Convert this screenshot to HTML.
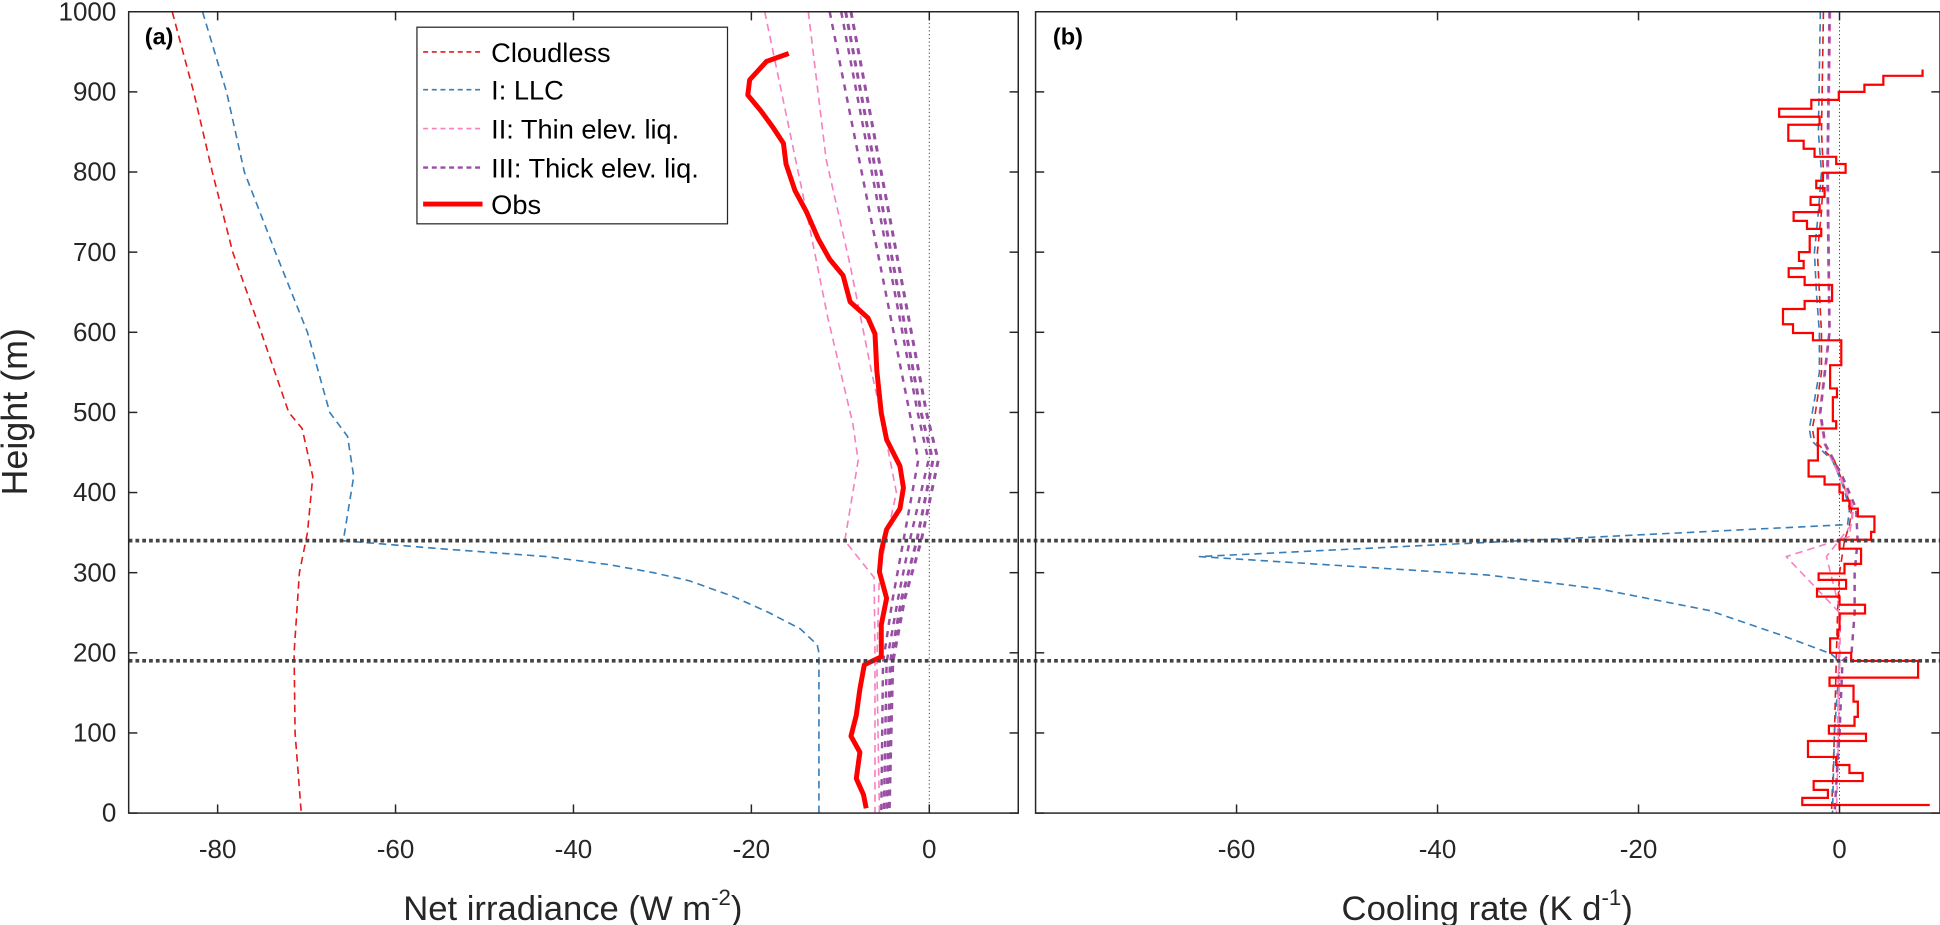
<!DOCTYPE html>
<html><head><meta charset="utf-8"><style>
html,body{margin:0;padding:0;background:#fff;}
svg{display:block;font-family:"Liberation Sans",Arial,sans-serif;}
</style></head><body>
<svg id="chart" width="1940" height="925" viewBox="0 0 1568 748" preserveAspectRatio="none" xmlns="http://www.w3.org/2000/svg"></svg>
<script>
// ---------- data ----------
const xTicksL = [-80,-60,-40,-20,0];
const xTicksR = [-60,-40,-20,0];
const yTicks = [0,100,200,300,400,500,600,700,800,900,1000];
const cloudBaseLines = [340,190];

// Panel (a): net irradiance
const cloudlessH = [1000,900,800,700,600,500,480,420,350,300,200,100,0];
const cloudlessV = [-85.1,-82.7,-80.6,-78.3,-75.1,-72,-70.5,-69.3,-69.9,-70.8,-71.4,-71.3,-70.6];
const llcH = [1000,900,800,700,600,500,470,420,345,340,330,320,310,300,290,270,250,230,210,200,0];
const llcV = [-81.7,-79,-77,-73.5,-69.9,-67.4,-65.4,-64.7,-65.8,-66,-55,-43,-36,-31,-27,-22,-18,-14.5,-12.6,-12.4,-12.4];
const thin1H = [1000,750,618,486,440,340,294,200,0];
const thin1V = [-18.5,-13.8,-11.4,-8.6,-8,-9.5,-6.2,-6.1,-6.1];
const thin2H = [1000,816,684,551,486,400,354,301,188,0];
const thin2V = [-13.6,-11.6,-8.9,-6.5,-5.2,-3.7,-4.6,-5.6,-5.9,-5.6];
const thickH = [1000,499,440,340,268,188,0];
const thick1V = [-11.2,-2.2,-1.25,-2.9,-4.1,-5.2,-5.4];
const thick2V = [-9.9,-1.3,-0.1,-2.2,-3.5,-4.8,-5.1];
const thick3V = [-9.4,-0.9,0.4,-1.4,-3.1,-4.4,-4.8];
const thick4V = [-8.8,-0.3,1.0,-0.9,-2.75,-4.1,-4.5];
const obsH = [948,938,915,896,876,856,836,810,777,750,717,691,671,638,618,598,552,499,466,433,406,380,354,327,301,268,235,195,185,155,122,96,76,43,23,6];
const obsV = [-15.8,-18.3,-20.2,-20.4,-18.9,-17.6,-16.4,-16.1,-15.1,-13.8,-12.5,-11.2,-9.7,-8.9,-6.9,-6.1,-5.9,-5.4,-4.8,-3.3,-2.9,-3.3,-4.8,-5.4,-5.6,-4.8,-5.4,-5.4,-7.3,-7.8,-8.2,-8.8,-7.8,-8.2,-7.4,-7.1];

// Panel (b): cooling rate
const crCloudH = [1000,850,800,750,700,650,600,550,500,480,465,440,410,380,360,340,300,250,200,100,0];
const crCloudV = [-1.6,-1.8,-1.6,-1.8,-2.2,-2.0,-1.8,-1.8,-2.4,-2.7,-2.5,-0.5,0.4,1.2,1.0,0.5,0,-0.2,-0.3,-0.5,-0.8];
const crLlcH = [1000,850,800,750,700,650,600,550,500,480,465,440,410,380,360,320,297,280,253,223,199,190,100,0];
const crLlcV = [-1.9,-2.1,-1.8,-2.1,-2.5,-2.3,-2.0,-2.0,-2.7,-3.0,-2.8,-0.7,0.3,1.0,0.8,-63.7,-35,-24,-13,-6,-0.9,0,-0.5,-0.7];
const crThin1H = [1000,800,600,500,460,420,380,345,320,250,100,0];
const crThin1V = [-1.0,-1.25,-1.05,-2.0,-1.5,0,1.3,1.0,-5.3,0,-0.2,-0.4];
const crThin2H = [1000,800,600,500,460,420,380,360,320,250,100,0];
const crThin2V = [-0.9,-1.1,-0.95,-1.9,-1.4,0.1,1.4,1.2,-1.3,0.1,-0.1,-0.3];
const crThickH = [1000,800,600,500,460,420,380,340,300,250,200,190,100,0];
const crThickV = [-1.0,-1.2,-1.0,-1.9,-1.4,0.3,1.65,1.8,1.5,1.5,1.2,0.3,0,-0.5];
const crObsEdges = [928,920,909,900,890,879,869,859,839,829,819,810,799,789,780,769,759,750,739,729,720,700,689,680,669,659,639,629,610,599,590,559,530,519,489,480,465,440,420,410,400,390,380,370,351,341,330,311,299,291,280,270,260,249,229,218,200,190,169,159,139,120,109,99,90,70,60,50,40,29,19,10];
const crObsV = [8.26,4.36,2.48,-0.07,-2.81,-6.0,-1.98,-5.1,-3.57,-2.48,-0.33,0.6,-1.65,-2.31,-1.49,-2.88,-1.98,-4.56,-3.24,-1.82,-2.97,-4.03,-3.57,-5.06,-3.47,-0.73,-3.47,-5.62,-4.63,-2.64,0.17,-0.93,-0.26,-0.66,-0.33,-2.15,-2.15,-3.07,-1.49,0,0.33,0.99,1.82,3.47,3.14,0,2.15,0.5,-2.08,0.66,-2.24,0,2.54,0,-0.17,-0.93,1.16,7.82,-0.99,1.39,1.82,1.49,-1.06,2.64,-3.14,-0.33,0.99,2.31,-2.57,-1.16,-3.7];
const crObsLast = 8.98;

// ---------- axes ----------
const L = {x0:104, x1:823, vmin:-90, vmax:10};
const R = {x0:837, x1:1568, vmin:-80, vmax:10};
const Y0 = 657.5, Y1 = 9.5;
function xL(v){return L.x0 + (v-L.vmin)/(L.vmax-L.vmin)*(L.x1-L.x0);}
function xR(v){return R.x0 + (v-R.vmin)/(R.vmax-R.vmin)*(R.x1-R.x0);}
function y(h){return Y0 - h/1000*(Y0-Y1);}

const svg = document.getElementById('chart');
const NS = 'http://www.w3.org/2000/svg';
function el(tag, attrs, parent){
  const e = document.createElementNS(NS, tag);
  for (const k in attrs) e.setAttribute(k, attrs[k]);
  (parent||svg).appendChild(e);
  return e;
}
function line(xs, hs, fx, color, w, dash, name){
  let d = '';
  for (let i=0;i<xs.length;i++) d += (i?'L':'M') + fx(xs[i]).toFixed(1) + ',' + y(hs[i]).toFixed(1);
  const p = el('path', {d:d, fill:'none', stroke:color, 'stroke-width':w, 'stroke-dasharray':dash||'none', 'stroke-linejoin':'round'});
  
  
  return p;
}
function txt(x, yy, s, size, anchor, name, extra){
  const t = el('text', Object.assign({x:x, y:yy, 'font-size':size, 'text-anchor':anchor||'middle', fill:'#262626'}, extra||{}));
  t.textContent = s;
  
  
  return t;
}

const RED='#e41a1c', BLUE='#377eb8', PINK='#f781bf', PURP='#984ea3', OBS='#ff0000';
const DASH='6,4';

// zero lines
for (const [fx,nm] of [[xL,'zero-line-a'],[xR,'zero-line-b']]){
  const z = el('line',{x1:fx(0),x2:fx(0),y1:Y1,y2:Y0,stroke:'#444','stroke-width':0.8,'stroke-dasharray':'1,2'});
  
  
}

// panel a series
line(cloudlessV, cloudlessH, xL, RED, 1.3, DASH, 'cloudless-line-a');
line(llcV, llcH, xL, BLUE, 1.3, DASH, 'llc-line-a');
line(thin1V, thin1H, xL, PINK, 1.3, DASH, 'thin-elev-liq-line-a-1');
line(thin2V, thin2H, xL, PINK, 1.3, DASH, 'thin-elev-liq-line-a-2');
line(thick1V, thickH, xL, PURP, 2, '5,5', 'thick-elev-liq-line-a-1');
line(thick2V, thickH, xL, PURP, 2, '5,5', 'thick-elev-liq-line-a-2');
line(thick3V, thickH, xL, PURP, 2.4, '5,5', 'thick-elev-liq-line-a-3');
line(thick4V, thickH, xL, PURP, 2.4, '5,5', 'thick-elev-liq-line-a-4');
line(obsV, obsH, xL, OBS, 4, null, 'obs-line-a');

// panel b series
line(crCloudV, crCloudH, xR, RED, 1.3, DASH, 'cloudless-line-b');
line(crLlcV, crLlcH, xR, BLUE, 1.3, DASH, 'llc-line-b');
line(crThin1V, crThin1H, xR, PINK, 1.3, DASH, 'thin-elev-liq-line-b-1');
line(crThin2V, crThin2H, xR, PINK, 1.3, DASH, 'thin-elev-liq-line-b-2');
line(crThickV, crThickH, xR, PURP, 2, '5,5', 'thick-elev-liq-line-b');
{
  let d = '';
  for (let i=0;i<crObsV.length;i++){
    const xv = xR(crObsV[i]).toFixed(1);
    d += (i?'L':'M') + xv + ',' + y(crObsEdges[i]).toFixed(1) + 'L' + xv + ',' + y(crObsEdges[i+1]).toFixed(1);
  }
  d += 'L' + xR(crObsLast).toFixed(1) + ',' + y(crObsEdges[crObsEdges.length-1]).toFixed(1);
  const p = el('path',{d:d,fill:'none',stroke:OBS,'stroke-width':1.8});
  
  
}

// cloud boundary dotted lines
for (const h of cloudBaseLines){
  const c = el('line',{x1:L.x0,x2:R.x1,y1:y(h),y2:y(h),stroke:'#444','stroke-width':3,'stroke-dasharray':'3,2.5'});
  
  
}

// axes boxes & ticks
for (const P of [L,R]){
  const nm = P===L ? 'a' : 'b';
  const fx = P===L ? xL : xR;
  const b = el('rect',{x:P.x0,y:Y1,width:P.x1-P.x0,height:Y0-Y1,fill:'none',stroke:'#262626','stroke-width':1.2});
  
  
  const tks = P===L ? xTicksL : xTicksR;
  for (const t of tks){
    el('line',{x1:fx(t),x2:fx(t),y1:Y0,y2:Y0-7,stroke:'#262626','stroke-width':1.2});
    el('line',{x1:fx(t),x2:fx(t),y1:Y1,y2:Y1+7,stroke:'#262626','stroke-width':1.2});
    txt(fx(t), 694, String(t), 21, 'middle', 'x-tick-label-'+nm);
  }
  for (const h of yTicks){
    el('line',{x1:P.x0,x2:P.x0+7,y1:y(h),y2:y(h),stroke:'#262626','stroke-width':1.2});
    el('line',{x1:P.x1,x2:P.x1-7,y1:y(h),y2:y(h),stroke:'#262626','stroke-width':1.2});
    if (P===L) txt(94, y(h)+7, String(h), 21, 'end', 'y-tick-label');
  }
}

// labels
txt(0, 22, 'Height (m)', 29, 'middle', 'y-axis-title', {transform:'translate(0,333) rotate(-90)'});
const xt1 = txt(463, 744, '', 28, 'middle', 'x-axis-title-a');
xt1.innerHTML = 'Net irradiance (W m<tspan dy="-12" font-size="18">-2</tspan><tspan dy="12">)</tspan>';
const xt2 = txt(1202, 744, '', 28, 'middle', 'x-axis-title-b');
xt2.innerHTML = 'Cooling rate (K d<tspan dy="-12" font-size="18">-1</tspan><tspan dy="12">)</tspan>';
txt(117, 36, '(a)', 19, 'start', 'panel-label-a', {'font-weight':'bold', fill:'#000'});
txt(851, 36, '(b)', 19, 'start', 'panel-label-b', {'font-weight':'bold', fill:'#000'});

// legend
const lg = el('g',{});


el('rect',{x:337,y:22,width:251,height:159,fill:'#fff',stroke:'#262626','stroke-width':1},lg);
const legNames = ['Cloudless','I: LLC','II: Thin elev. liq.','III: Thick elev. liq.','Obs'];
const legColors = [RED,BLUE,PINK,PURP,OBS];
const legY = [42,72.5,104,135.5,165];
for (let i=0;i<5;i++){
  const g = el('g',{},lg);
  
  
  el('line',{x1:342,x2:390,y1:legY[i],y2:legY[i],stroke:legColors[i],'stroke-width':i==4?4:(i==3?2:1.3),'stroke-dasharray':i==4?'none':'4,3'},g);
  const t = el('text',{x:397,y:legY[i]+8,'font-size':22,fill:'#000'},g);
  t.textContent = legNames[i];
}
</script>
</body></html>
